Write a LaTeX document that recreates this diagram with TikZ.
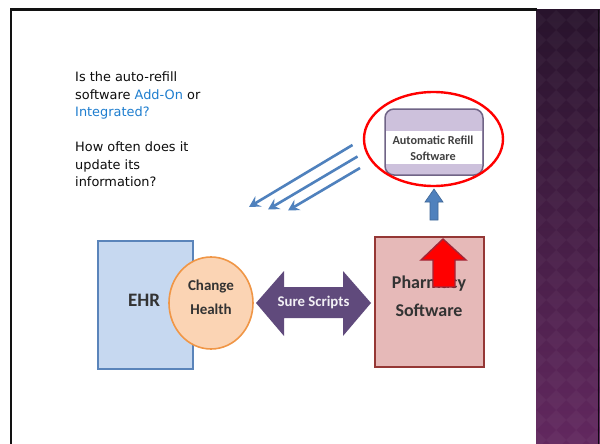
\documentclass[tikz,border=0pt]{standalone}
\usepackage{fontspec}
\setmainfont{DejaVu Sans}
\newfontfamily\carl{Carlito}
\usetikzlibrary{shapes.geometric,arrows.meta}
\definecolor{qblue}{RGB}{31,126,207}
\definecolor{ehrfill}{RGB}{198,216,240}
\definecolor{ehrdraw}{RGB}{90,132,186}
\definecolor{chfill}{RGB}{251,212,180}
\definecolor{chdraw}{RGB}{240,150,70}
\definecolor{ssfill}{RGB}{96,74,124}
\definecolor{phfill}{RGB}{230,185,184}
\definecolor{phdraw}{RGB}{149,55,53}
\definecolor{arfill}{RGB}{205,193,220}
\definecolor{ardraw}{RGB}{112,100,134}
\definecolor{steel}{RGB}{79,129,189}
\definecolor{pantop}{RGB}{40,19,44}
\definecolor{panbot}{RGB}{98,40,95}
\begin{document}
\begin{tikzpicture}[x=1pt,y=-1pt,
  boxtext/.style={font=\carl\bfseries, align=center, inner sep=0pt, text=black!80},
  thinarrow/.style={draw=steel, line width=2.6pt, -{Stealth[length=11pt,width=12pt,inset=4pt]}}]
\useasboundingbox (0,0) rectangle (600,444);
\fill[white] (0,0) rectangle (600,444);
% purple side panel
\shade[top color=pantop, bottom color=panbot] (536,10) rectangle (600,444);
\begin{scope}
\clip (536,10) rectangle (600,444);
\foreach \i in {0,...,4}{
  \foreach \j in {0,...,22}{
    \fill[white, opacity=0.035] (536+20*\i,10+20*\j) -- ++(10,10) -- ++(-10,10) -- ++(-10,-10) -- cycle;
  }
}
\end{scope}
\draw[black!60!pantop, line width=1.5pt] (598.5,10) -- (598.5,444);
% frame
\draw[black!93, line width=2.5pt] (537,9.5) -- (11,9.5) -- (11,444);
% question text
\node[anchor=north west, inner sep=0pt, align=left, text=black!95,
  font=\fontsize{12.9}{17.5}\selectfont] (q) at (75,71.5)
  {Is the auto-refill\\ software \textcolor{qblue}{Add-On} or\\ \textcolor{qblue}{Integrated?}\\[17.5pt]
   How often does it\\ update its\\ information?};
% EHR
\node[draw=ehrdraw, fill=ehrfill, line width=1.6pt, minimum width=95pt, minimum height=128pt, inner sep=0pt] (ehr) at (145.5,305) {};
\node[boxtext, font=\carl\bfseries\fontsize{19}{22}\selectfont] (ehrt) at (144,300) {EHR};
% Change Health
\node[ellipse, draw=chdraw, fill=chfill, line width=1.6pt, minimum width=84pt, minimum height=92pt, inner sep=0pt] (ch) at (211,303) {};
\node[boxtext, font=\carl\bfseries\fontsize{15}{24}\selectfont] (cht) at (211,297) {Change\\Health};
% Pharmacy
\node[draw=phdraw, fill=phfill, line width=1.8pt, minimum width=109pt, minimum height=130pt, inner sep=0pt] (ph) at (429.5,302) {};
\node[boxtext, font=\carl\bfseries\fontsize{18}{28}\selectfont] (pht) at (429,296) {Pharmacy\\Software};
% Sure Scripts double arrow
\fill[ssfill] (256,303) -- (284,271) -- (284,287) -- (343,287) -- (343,271) -- (371,303)
  -- (343,336) -- (343,318) -- (284,318) -- (284,336) -- cycle;
\node[boxtext, text=white!92!ssfill, font=\carl\bfseries\fontsize{14.8}{17}\selectfont] (ss) at (313.5,302) {Sure Scripts};
% red arrow
\filldraw[fill=red, draw=phdraw!70!purple, line width=1.4pt]
  (443,239) -- (466,260) -- (455,260) -- (455,287) -- (433,287) -- (433,260) -- (421,260) -- cycle;
% Automatic refill box
\node[draw=ardraw, fill=arfill, line width=1.5pt, rounded corners=9pt, minimum width=98pt, minimum height=66pt, inner sep=0pt] (ar) at (434,142) {};
\fill[white] (385.8,131) rectangle (482.2,164);
\node[boxtext, text=black!75, font=\carl\bfseries\fontsize{12.2}{16}\selectfont] (art) at (433,148) {Automatic Refill\\Software};
% red ellipse
\node[ellipse, draw=red, line width=2.4pt, minimum width=139pt, minimum height=94pt, inner sep=0pt] (ring) at (433.5,139) {};
% small blue up arrow
\filldraw[fill=steel, draw=steel!80!black, line width=0.6pt]
  (434,189) -- (443,202) -- (438,202) -- (438,220) -- (430,220) -- (430,202) -- (425,202) -- cycle;
% three thin arrows
\coordinate (s1) at (352.5,145); \coordinate (e1) at (249,207);
\coordinate (s2) at (357.5,156.5); \coordinate (e2) at (268,209.5);
\coordinate (s3) at (360,168); \coordinate (e3) at (288,210.5);
\draw[thinarrow] (s1) -- (e1);
\draw[thinarrow] (s2) -- (e2);
\draw[thinarrow] (s3) -- (e3);
\end{tikzpicture}
\end{document}
